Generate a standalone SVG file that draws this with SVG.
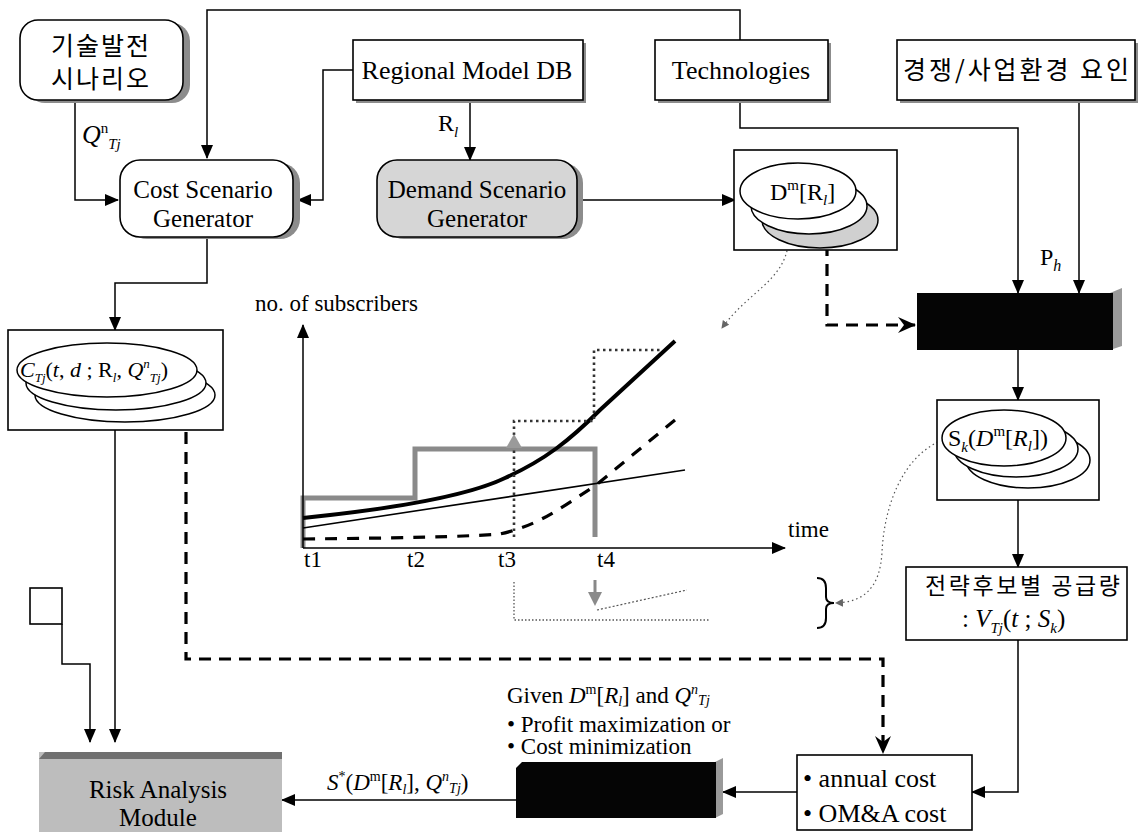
<svg xmlns="http://www.w3.org/2000/svg" width="1141" height="832" viewBox="0 0 1141 832">
<defs>
<style>
.box{fill:#fff;stroke:#000;stroke-width:1.6}
.sh{fill:#8c8c8c}
.ln{fill:none;stroke:#000;stroke-width:1.5}
.dash{fill:none;stroke:#000;stroke-width:3.2;stroke-dasharray:12,8}
.dot{fill:none;stroke:#555;stroke-width:1.2;stroke-dasharray:1.5,3}
.t{font-family:"Liberation Serif","Times New Roman",serif;fill:#000}
.k{font-family:"Noto Sans CJK KR",sans-serif;fill:#000}
.i{font-style:italic}
.el{fill:#fff;stroke:#000;stroke-width:1.5}
</style>
<marker id="ah" markerWidth="14" markerHeight="12" refX="13" refY="6" orient="auto" markerUnits="userSpaceOnUse"><path d="M0,0 L14,6 L0,12 z" fill="#000"/></marker>
<marker id="bh" markerWidth="18" markerHeight="16" refX="17" refY="8" orient="auto" markerUnits="userSpaceOnUse"><path d="M0,0 L18,8 L0,16 L6,8 z" fill="#000"/></marker>
<marker id="sm" markerWidth="8" markerHeight="8" refX="7" refY="4" orient="auto" markerUnits="userSpaceOnUse"><path d="M0,0 L8,4 L0,8 z" fill="#666"/></marker>
</defs>
<rect width="1141" height="832" fill="#fff"/>

<g id="connectors">
<path class="ln" d="M740,40 V10 H207 V158" marker-end="url(#ah)"/>
<path class="ln" d="M75,100 V200 H118" marker-end="url(#ah)"/>
<path class="ln" d="M353,70 H323 V200 H298" marker-end="url(#ah)"/>
<path class="ln" d="M470,100 V160" marker-end="url(#ah)"/>
<path class="ln" d="M583,200 H735" marker-end="url(#ah)"/>
<path class="ln" d="M740,100 V128 H1018 V293" marker-end="url(#ah)"/>
<path class="ln" d="M1079,100 V293" marker-end="url(#ah)"/>
<path class="dash" d="M827,244 V325 H915" marker-end="url(#bh)"/>
<path class="ln" d="M1018,350 V400" marker-end="url(#ah)"/>
<path class="ln" d="M1018,500 V567" marker-end="url(#ah)"/>
<path class="ln" d="M1018,640 V792 H972" marker-end="url(#ah)"/>
<path class="ln" d="M797,792 H723" marker-end="url(#ah)"/>
<path class="ln" d="M516,800 H282" marker-end="url(#ah)"/>
<path class="ln" d="M207,238 V283 H115 V330" marker-end="url(#ah)"/>
<path class="ln" d="M115,430 V742" marker-end="url(#ah)"/>
<path class="ln" d="M62,624 V664 H90 V742" marker-end="url(#ah)"/>
<path class="dash" d="M186,412 V659 H883 V753" marker-end="url(#bh)"/>
<path class="dot" d="M788,246 C782,282 748,292 722,328" marker-end="url(#sm)"/>
<path class="dot" d="M942,440 C900,458 884,510 882,552 C880,590 862,602 836,603" marker-end="url(#sm)"/>
</g>

<g id="n-tech-scenario">
<rect class="sh" x="27" y="23" width="163" height="80" rx="18"/>
<rect class="box" x="20" y="20" width="163" height="80" rx="18"/>
<text class="k" x="101" y="55" font-size="25" text-anchor="middle" letter-spacing="2">기술발전</text>
<text class="k" x="101" y="88" font-size="25" text-anchor="middle" letter-spacing="2">시나리오</text>
</g>
<text class="t i" x="82" y="143" font-size="26">Q<tspan font-size="15" dy="-10" font-style="normal">n</tspan><tspan font-size="15" dy="16">Tj</tspan></text>

<g id="n-regional">
<rect class="sh" x="356" y="43" width="230" height="60"/>
<rect class="box" x="353" y="40" width="230" height="60"/>
<text class="t" x="467" y="79" font-size="26" text-anchor="middle">Regional Model DB</text>
</g>
<text class="t" x="438" y="131" font-size="24">R<tspan class="i" font-size="15" dy="6">l</tspan></text>

<g id="n-technologies">
<rect class="sh" x="658" y="43" width="173" height="60"/>
<rect class="box" x="655" y="40" width="173" height="60"/>
<text class="t" x="741" y="79" font-size="26" text-anchor="middle">Technologies</text>
</g>

<g id="n-competition">
<rect class="sh" x="900" y="43" width="238" height="60"/>
<rect class="box" x="897" y="40" width="238" height="60"/>
<text class="k" x="903" y="79" font-size="25" textLength="226" lengthAdjust="spacing">경쟁/사업환경 요인</text>
</g>

<g id="n-cost-gen">
<rect class="sh" x="127" y="163" width="173" height="76" rx="20"/>
<rect class="box" x="120" y="160" width="173" height="77" rx="20"/>
<text class="t" x="203" y="198" font-size="25" text-anchor="middle">Cost Scenario</text>
<text class="t" x="203" y="227" font-size="25" text-anchor="middle">Generator</text>
</g>

<g id="n-demand-gen">
<rect class="sh" x="384" y="163" width="199" height="76" rx="20"/>
<rect x="377" y="160" width="200" height="77" rx="20" fill="#d6d6d6" stroke="#000" stroke-width="1.6"/>
<text class="t" x="477" y="198" font-size="25" text-anchor="middle" fill="#111">Demand Scenario</text>
<text class="t" x="477" y="227" font-size="25" text-anchor="middle" fill="#111">Generator</text>
</g>

<g id="n-demand-set">
<rect class="box" x="734" y="150" width="163" height="100"/>
<ellipse cx="820" cy="220" rx="58" ry="28" fill="#d0d0d0" stroke="#000" stroke-width="1.5"/>
<ellipse class="el" cx="809" cy="206" rx="58" ry="28"/>
<ellipse class="el" cx="798" cy="191" rx="58" ry="28"/>
<text class="t" x="770" y="200" font-size="24">D<tspan font-size="15" dy="-10">m</tspan><tspan dy="10">[R</tspan><tspan class="i" font-size="15" dy="5">l</tspan><tspan dy="-5">]</tspan></text>
</g>
<text class="t" x="1040" y="265" font-size="24">P<tspan class="i" font-size="16" dy="6">h</tspan></text>

<g id="n-strategy-gen">
<polygon points="1110,293 1122,288 1122,346 1110,350" fill="#9a9a9a"/>
<rect x="917" y="293" width="196" height="57" fill="#050505"/>
</g>

<g id="n-strategy-set">
<rect class="box" x="937" y="400" width="162" height="100"/>
<ellipse class="el" cx="1028" cy="460" rx="62" ry="28"/>
<ellipse class="el" cx="1016" cy="449" rx="62" ry="28"/>
<ellipse class="el" cx="1004" cy="438" rx="62" ry="28"/>
<text class="t" x="948" y="446" font-size="24">S<tspan class="i" font-size="15" dy="6">k</tspan><tspan dy="-6">(</tspan><tspan class="i">D</tspan><tspan font-size="15" dy="-10">m</tspan><tspan dy="10">[</tspan><tspan class="i">R</tspan><tspan class="i" font-size="15" dy="5">l</tspan><tspan dy="-5">])</tspan></text>
</g>

<g id="n-supply">
<rect class="box" x="906" y="567" width="221" height="73"/>
<text class="k" x="925" y="594" font-size="23" textLength="195" lengthAdjust="spacing">전략후보별 공급량</text>
<text class="t" x="962" y="627" font-size="25">: <tspan class="i">V</tspan><tspan class="i" font-size="15" dy="6">Tj</tspan><tspan dy="-6">(</tspan><tspan class="i">t</tspan> ; <tspan class="i">S</tspan><tspan class="i" font-size="15" dy="6">k</tspan><tspan dy="-6">)</tspan></text>
</g>

<g id="n-cost-set">
<rect class="box" x="8" y="330" width="215" height="100"/>
<ellipse class="el" cx="125" cy="395" rx="90" ry="27"/>
<ellipse class="el" cx="116" cy="383" rx="90" ry="27"/>
<ellipse class="el" cx="107" cy="370" rx="90" ry="27"/>
<text class="t" x="20" y="377" font-size="22"><tspan class="i">C</tspan><tspan class="i" font-size="13" dy="5">Tj</tspan><tspan dy="-5">(</tspan><tspan class="i">t</tspan>, <tspan class="i">d</tspan> ; R<tspan class="i" font-size="13" dy="5">l</tspan><tspan dy="-5">, </tspan><tspan class="i">Q</tspan><tspan class="i" font-size="13" dy="-9">n</tspan><tspan class="i" font-size="13" dy="14">Tj</tspan><tspan dy="-5">)</tspan></text>
</g>

<g id="n-small">
<rect class="box" x="30" y="588" width="32" height="36"/>
</g>

<g id="n-annual">
<rect class="box" x="797" y="755" width="175" height="75"/>
<text class="t" x="803" y="787" font-size="26">• annual cost</text>
<text class="t" x="803" y="822" font-size="26">• OM&amp;A cost</text>
</g>

<g id="n-optimizer">
<polygon points="715,762 723,758 723,814 715,818" fill="#9a9a9a"/>
<polygon points="522,762 716,762 716,818 516,818 516,768" fill="#050505"/>
<text class="t" x="507" y="703" font-size="23">Given <tspan class="i">D</tspan><tspan font-size="14" dy="-9">m</tspan><tspan dy="9">[</tspan><tspan class="i">R</tspan><tspan class="i" font-size="14" dy="3">l</tspan><tspan dy="-3">] and </tspan><tspan class="i">Q</tspan><tspan class="i" font-size="14" dy="-9">n</tspan><tspan class="i" font-size="14" dy="11">Tj</tspan></text>
<text class="t" x="507" y="732" font-size="23">• Profit maximization or</text>
<text class="t" x="507" y="754" font-size="23">• Cost minimization</text>
</g>
<text class="t" x="327" y="790" font-size="23"><tspan class="i">S</tspan><tspan font-size="14" dy="-9">*</tspan><tspan dy="9">(</tspan><tspan class="i">D</tspan><tspan font-size="14" dy="-9">m</tspan><tspan dy="9">[</tspan><tspan class="i">R</tspan><tspan class="i" font-size="14" dy="4">l</tspan><tspan dy="-4">], </tspan><tspan class="i">Q</tspan><tspan class="i" font-size="14" dy="-9">n</tspan><tspan class="i" font-size="14" dy="12">Tj</tspan><tspan dy="-3">)</tspan></text>

<g id="n-risk">
<rect x="39" y="752" width="243" height="80" fill="#bdbdbd"/>
<polygon points="45,752 282,752 282,759 39,759" fill="#707070"/>
<text class="t" x="158" y="798" font-size="25" text-anchor="middle" fill="#1a1a1a">Risk Analysis</text>
<text class="t" x="158" y="826" font-size="25" text-anchor="middle" fill="#1a1a1a">Module</text>
</g>

<g id="chart">
<path d="M303,548 V498 H415 V449 H595 V537" fill="none" stroke="#8a8a8a" stroke-width="5"/>
<path d="M303,518 C400,508 470,495 505,478 C545,460 570,440 600,410 L675,341" fill="none" stroke="#000" stroke-width="4"/>
<path d="M303,528 L685,470" fill="none" stroke="#000" stroke-width="1.6"/>
<path d="M303,539 C400,538 460,537 500,534 C540,525 560,508 595,486 L675,420" fill="none" stroke="#000" stroke-width="3.2" stroke-dasharray="12,10"/>
<path d="M514,537 V421 H594 V350 H660" fill="none" stroke="#333" stroke-width="2.6" stroke-dasharray="2.5,3.5"/>
<polygon points="506,448 522,448 514,434" fill="#9a9a9a"/>
<path d="M303,548 V325" class="ln" stroke-width="2" marker-end="url(#ah)"/>
<path d="M303,548 H785" class="ln" stroke-width="2.2" marker-end="url(#ah)"/>
<text class="t" x="255" y="311" font-size="23">no. of subscribers</text>
<text class="t" x="788" y="537" font-size="23">time</text>
<text class="t" x="304" y="567" font-size="23">t1</text>
<text class="t" x="407" y="567" font-size="23">t2</text>
<text class="t" x="498" y="567" font-size="23">t3</text>
<text class="t" x="597" y="567" font-size="23">t4</text>
<path d="M514,582 V620 H710" fill="none" stroke="#555" stroke-width="1.3" stroke-dasharray="1.5,2"/>
<path d="M595,580 V594" stroke="#888" stroke-width="3" fill="none"/>
<polygon points="588,592 602,592 595,606" fill="#8a8a8a"/>
<path d="M597,610 L687,590" fill="none" stroke="#555" stroke-width="1.2" stroke-dasharray="2,2"/>
<path d="M817,578 Q826,578 826,588 V597 Q826,603 834,603 Q826,603 826,609 V618 Q826,628 817,628" fill="none" stroke="#000" stroke-width="2"/>
</g>
</svg>
